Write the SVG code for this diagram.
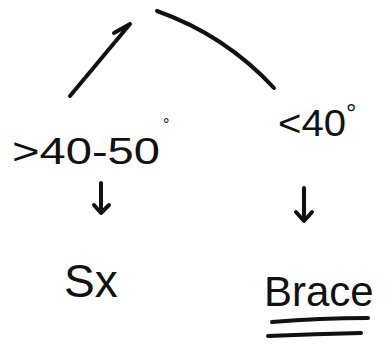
<svg xmlns="http://www.w3.org/2000/svg" width="385" height="346" viewBox="0 0 385 346">
<style>
.ln{fill:none;stroke:#111;stroke-width:4;stroke-linecap:round;stroke-linejoin:round}
.t{font-family:"Liberation Sans",Arial,sans-serif;fill:#111}
</style>
<rect width="385" height="346" fill="#fff"/>
<g id="connectors">
<path class="ln" d="M70,96 L130,24 M114,33 L130,24"/>
<path class="ln" d="M157,11 Q225,35 274,88"/>
<path class="ln" d="M101,183 L101,212 M94,205 L101,213 L109,205"/>
<path class="ln" d="M304,188 L304,220 M296,212 L304,221 L312,212"/>
<path class="ln" d="M272,322 Q320,318 368,318"/>
<path class="ln" d="M268,336 Q315,334 361,333"/>
</g>
<g id="node-left">
<text class="t" x="12" y="164" font-size="36" textLength="148" lengthAdjust="spacingAndGlyphs">&gt;40-50</text>
<text class="t" x="163" y="130" font-size="16">°</text>
</g>
<g id="node-right">
<text class="t" x="278" y="136" font-size="36" textLength="68" lengthAdjust="spacingAndGlyphs">&lt;40</text>
<text class="t" x="346" y="122" font-size="26">°</text>
</g>
<g id="node-sx">
<text class="t" x="64" y="297" font-size="46">Sx</text>
</g>
<g id="node-brace">
<text class="t" x="264" y="306" font-size="42">Brace</text>
</g>
</svg>
